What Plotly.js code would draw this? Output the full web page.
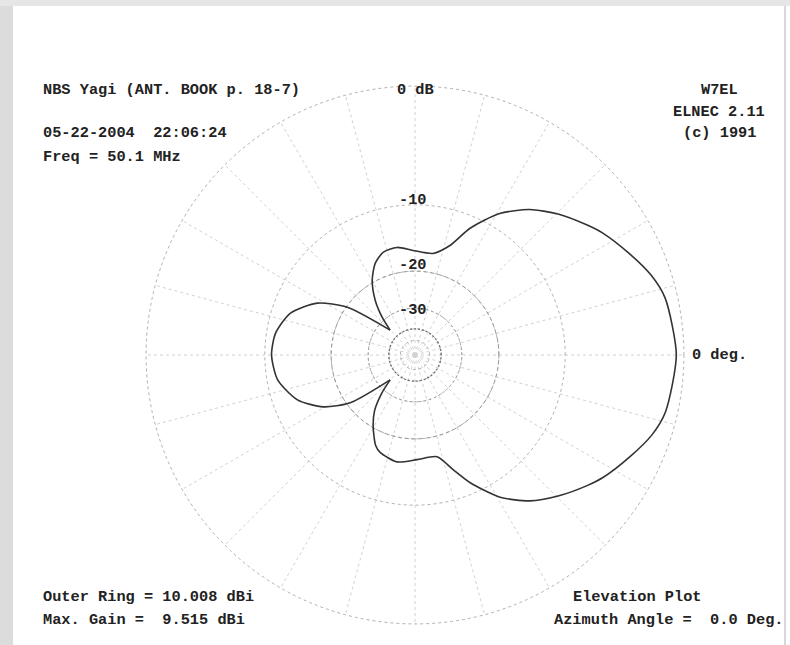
<!DOCTYPE html>
<html>
<head>
<meta charset="utf-8">
<script src="https://cdn.plot.ly/plotly-3.0.1.min.js"></script>
<style>
  html, body { margin: 0; padding: 0; background: #ffffff; }
  #chart { width: 790px; height: 645px; }
</style>
</head>
<body>
<div id="chart"></div>
<script>
// ---- data ----
const outerRingDbi = 10.008;
const maxGainDbi = 9.515;

// front lobe (main + minor lobes), from lower null to upper null, elevation deg
const frontAngles = [-135, -131, -126, -120.3, -113.5, -109.7, -99.5, -88.9, -77.8, -71.7, -66.6, -59.1, -51.8, -44.6, -37.2, -33.1, -25.3, -18.7, -12.8, 0,
                     12.8, 18.7, 25.3, 33.1, 37.2, 44.6, 51.8, 59.1, 66.6, 72.3, 80.0, 91.1, 99.5, 107.3, 113.5, 119.8, 126.0, 131.0, 135];
const frontGain   = [-24.9, -18.6, -13.4, -10.19, -7.2, -6.39, -5.59, -6.19, -6.29, -3.79, -1.3, 1.7, 3.65, 5.0, 6.25, 6.9, 7.9, 8.75, 9.22, 9.515,
                     9.2, 8.7, 7.85, 6.85, 6.2, 5.0, 3.60, 1.61, -1.46, -4.58, -6.44, -6.20, -5.48, -5.74, -6.99, -9.54, -13.66, -18.83, -24.9];

// back lobe, from upper null to lower null
const backAngles = [135, 144.8, 152.0, 161.4, 171.1, 180, 190.3, 200.9, 209.5, 216.4, 225];
const backGain   = [-24.9, -10.19, -5.25, -2.29, -1.06, -0.78, -1.25, -3.03, -6.09, -10.69, -24.9];

// grid rings (dB relative to outer ring) and labels
const ringDb = [0, -10, -20, -30, -40, -50];
const ringLabels = ["0 dB", "-10", "-20", "-30"];

const headerLeft = ["NBS Yagi (ANT. BOOK p. 18-7)", "05-22-2004  22:06:24", "Freq = 50.1 MHz"];
const headerRight = ["W7EL", "ELNEC 2.11", "(c) 1991"];
const footerLeft = ["Outer Ring = 10.008 dBi", "Max. Gain =  9.515 dBi"];
const footerRight = ["Elevation Plot", "Azimuth Angle =  0.0 Deg."];
const angleLabel = "0 deg.";

// ---- ARRL log scale (0.89 per 2 dB) ----
function arrl(relDb) { return Math.pow(0.89, -relDb / 2); }
function toR(gains) { return gains.map(g => arrl(g - outerRingDbi)); }

const W = 790, H = 645;
const cx = 415, cy = 355, R = 270;
const px = x => x / W;
const py = y => 1 - y / H;
const nb = s => s.replace(/ /g, '\u00a0');

// full circle of angles used to trace the emphasised grid rings
const ringTheta = [];
for (let a = 0; a <= 360; a += 2) ringTheta.push(a);
function ringTrace(db, color, dash, width) {
  return { type: 'scatterpolar', mode: 'lines', theta: ringTheta, r: ringTheta.map(() => arrl(db)),
           line: { color: color, dash: dash, width: width }, hoverinfo: 'skip', showlegend: false };
}

const lineStyle = { color: '#333333', width: 1.6, shape: 'spline', smoothing: 0.7 };
const traces = [
  ringTrace(-20, '#9a9a9a', '4px,3px', 1),
  ringTrace(-30, '#9a9a9a', '2px,3px', 1),
  ringTrace(-40, '#6a6a6a', '2px,2px', 1.3),
  { type: 'scatterpolar', mode: 'lines', theta: frontAngles, r: toR(frontGain), line: lineStyle, hoverinfo: 'skip', showlegend: false },
  { type: 'scatterpolar', mode: 'lines', theta: backAngles, r: toR(backGain), line: lineStyle, hoverinfo: 'skip', showlegend: false }
];

const font = { family: 'Liberation Mono, DejaVu Sans Mono, monospace', size: 15.3, color: '#222222', weight: 'bold' };
const ann = [];
function addText(text, x, y, xanchor) {
  ann.push({ text: nb(text), x: px(x), y: py(y), xref: 'paper', yref: 'paper', xanchor: xanchor, yanchor: 'middle', showarrow: false, font: font });
}
addText(headerLeft[0], 41, 90, 'left');
addText(headerLeft[1], 41, 133, 'left');
addText(headerLeft[2], 41, 157, 'left');
addText(headerRight[0], 719, 90, 'center');
addText(headerRight[1], 719, 112, 'center');
addText(headerRight[2], 719, 133, 'center');
addText(footerLeft[0], 41, 597, 'left');
addText(footerLeft[1], 41, 620, 'left');
addText(footerRight[0], 637, 597, 'center');
addText(footerRight[1], 552, 620, 'left');
addText(angleLabel, 690, 355, 'left');
// ring labels along the vertical axis
addText(ringLabels[0], 415, 90, 'center');
addText(ringLabels[1], 413, 200, 'center');
addText(ringLabels[2], 413, 265, 'center');
addText(ringLabels[3], 413, 310, 'center');

const layout = {
  width: W, height: H,
  margin: { l: 0, r: 0, t: 0, b: 0 },
  paper_bgcolor: '#ffffff',
  showlegend: false,
  polar: {
    domain: { x: [px(cx - R), px(cx + R)], y: [py(cy + R), py(cy - R)] },
    bgcolor: 'rgba(0,0,0,0)',
    radialaxis: {
      range: [0, 1.004],
      tickvals: ringDb.map(arrl),
      showticklabels: false,
      ticks: '',
      showline: false,
      gridcolor: '#b0b0b0',
      gridwidth: 1,
      griddash: 'dot'
    },
    angularaxis: {
      rotation: 0,
      direction: 'counterclockwise',
      dtick: 15,
      showticklabels: false,
      ticks: '',
      showline: false,
      gridcolor: '#d2d2d2',
      gridwidth: 1,
      griddash: 'dot'
    }
  },
  annotations: ann,
  shapes: [
    { type: 'rect', xref: 'paper', yref: 'paper', x0: 0, x1: px(13), y0: 0, y1: 1, fillcolor: '#dcdcdc', line: { width: 0 }, layer: 'below' },
    { type: 'rect', xref: 'paper', yref: 'paper', x0: 0, x1: 1, y0: py(6), y1: 1, fillcolor: '#e6e6e6', line: { width: 0 }, layer: 'below' },
    { type: 'line', xref: 'paper', yref: 'paper', x0: px(785), x1: px(785), y0: 0, y1: py(6), line: { color: '#b0b0b0', width: 1 } }
  ]
};

Plotly.newPlot('chart', traces, layout, { staticPlot: true, displayModeBar: false });
</script>
</body>
</html>
